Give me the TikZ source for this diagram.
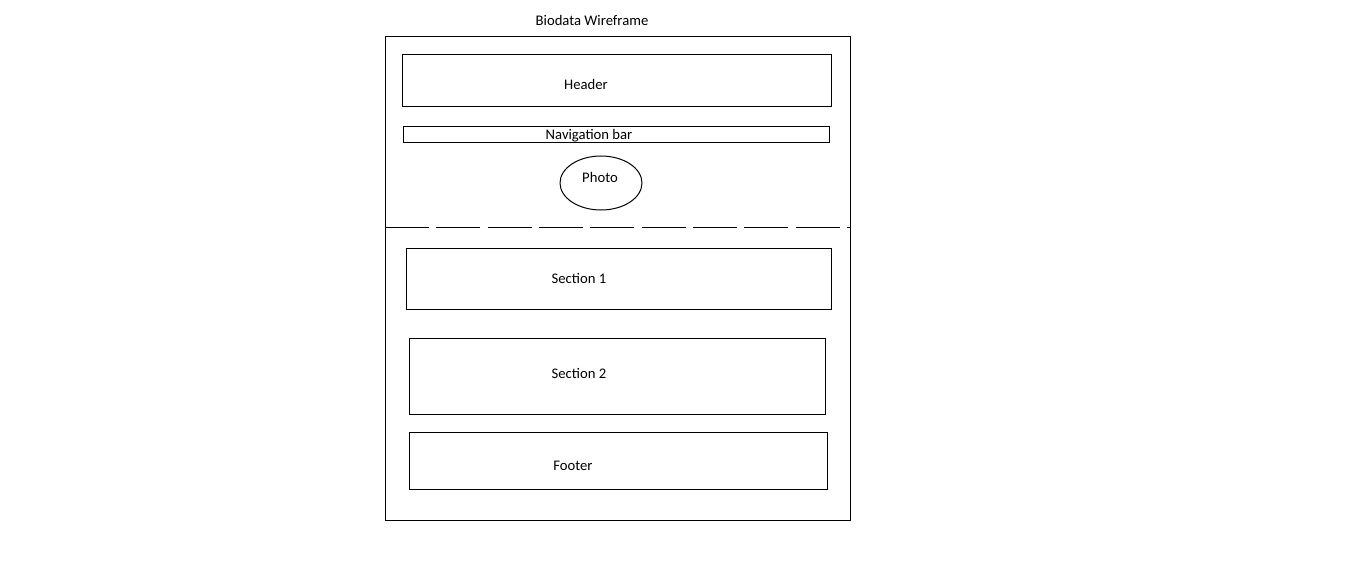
\documentclass[tikz,border=0pt]{standalone}
\usepackage{fontspec}
\setmainfont{Carlito}
\begin{document}
\begin{tikzpicture}[x=0.75pt,y=0.75pt,yscale=-1,
  box/.style={draw=black,line width=0.75pt},
  lbl/.style={inner sep=0.75pt,font=\fontsize{11}{13}\selectfont}]
\useasboundingbox (0,0) rectangle (1360,567);

%Shape: Rectangle [frame]
\draw [box] (385,37) rectangle (850,520);
%Shape: Rectangle [header]
\draw [box] (402,55) rectangle (831,107);
%Shape: Rectangle [navigation bar]
\draw [box] (403,126) rectangle (829,142);
%Shape: Ellipse [photo]
\draw [box] (601,183) ellipse [x radius=41,y radius=27];
%Straight Lines [fold]
\draw [box,dash pattern=on 33pt off 5.5pt] (385,227) -- (851,227);
%Shape: Rectangle [section 1]
\draw [box] (406,248) rectangle (831,309);
%Shape: Rectangle [section 2]
\draw [box] (409,338) rectangle (825,414);
%Shape: Rectangle [footer]
\draw [box] (409,432) rectangle (827,489);

% Text Node
\node [lbl] (title) at (592,20) {Biodata Wireframe};
% Text Node
\node [lbl] (header) at (586,84) {Header};
% Text Node
\node [lbl] (nav) at (589,136) {Navigation bar};
% Text Node
\node [lbl] (photo) at (600,177) {Photo};
% Text Node
\node [lbl] (sec1) at (579,278) {Section 1};
% Text Node
\node [lbl] (sec2) at (579,373) {Section 2};
% Text Node
\node [lbl] (footer) at (573,466) {Footer};

\end{tikzpicture}
\end{document}
